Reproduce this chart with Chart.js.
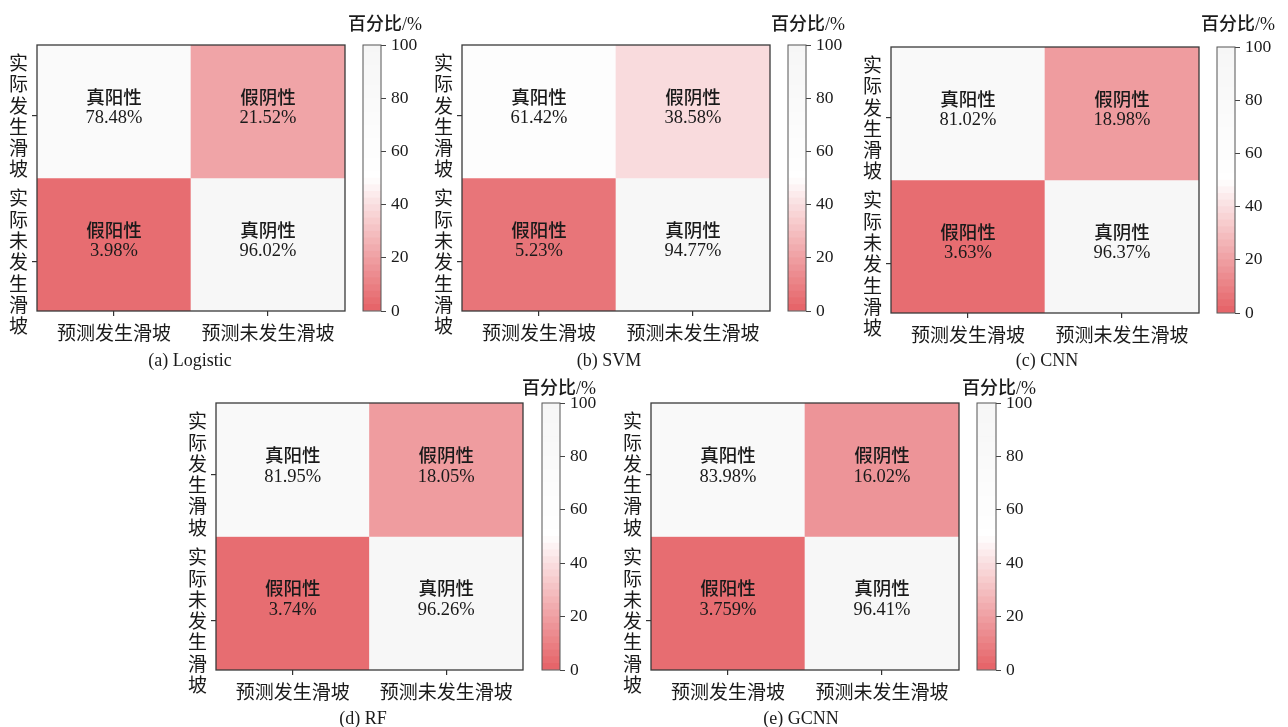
<!DOCTYPE html>
<html>
<head>
<meta charset="utf-8">
<script src="https://cdn.jsdelivr.net/npm/chart.js@4.4.1/dist/chart.umd.min.js"></script>
<style>
  html, body { margin: 0; padding: 0; background: #ffffff; }
  body { width: 1288px; height: 727px; position: relative; overflow: hidden; }
  canvas { position: absolute; }
  .caption {
    position: absolute; white-space: nowrap; color: #1a1a1a;
    font: 18px "Liberation Serif", serif; transform: translate(-50%, -50%);
  }
  .cb-title {
    position: absolute; white-space: nowrap; color: #1a1a1a;
    font: 500 18px "Noto Sans CJK SC", sans-serif; transform: translate(0, -50%);
  }
  .cb-title span { font: 18px "Liberation Serif", serif; }
</style>
</head>
<body>
<script>
// Models and confusion-matrix percentages
const models = ['Logistic', 'SVM', 'CNN', 'RF', 'GCNN'];
const panelTags = ['(a)', '(b)', '(c)', '(d)', '(e)'];
const truePositive  = [78.48, 61.42, 81.02, 81.95, 83.98];
const falseNegative = [21.52, 38.58, 18.98, 18.05, 16.02];
const falsePositive = [3.98, 5.23, 3.63, 3.74, 3.759];
const trueNegative  = [96.02, 94.77, 96.37, 96.26, 96.41];

// Axis categories and cell names
const predicted = ['预测发生滑坡', '预测未发生滑坡'];
const actual = ['实际发生滑坡', '实际未发生滑坡'];
const cellNames = ['真阳性', '假阴性', '假阳性', '真阴性'];
const colorbarTicks = [0, 20, 40, 60, 80, 100];
const colorbarTitle = '百分比';
const colorbarUnit = '/%';

// Page layout of the five panels: heatmap box, colour bar span, title and caption anchors
const layout = [
  { box: [37, 45, 345, 311],  cb: [363, 381],   title: [348, 22],   caption: [190, 360] },
  { box: [462, 45, 770, 311], cb: [788, 806],   title: [771, 22],   caption: [609, 360] },
  { box: [891, 47, 1199, 313], cb: [1217, 1235], title: [1201, 22], caption: [1047, 360] },
  { box: [216, 403, 523, 670], cb: [542, 560],  title: [522, 386],  caption: [363, 718] },
  { box: [651, 403, 959, 670], cb: [977, 996],  title: [962, 386],  caption: [801, 718] }
];

const CJK = '"Noto Sans CJK SC", sans-serif';
const SERIF = '"Liberation Serif", serif';
const INK = '#1a1a1a';

// Red -> white -> light grey colour map, quantised into discrete levels
const cmapStops = [[0, [229, 97, 102]], [50, [255, 255, 255]], [100, [246, 246, 246]]];
const cmapLevels = 40;
function cmap(v) {
  const step = 100 / cmapLevels;
  const q = Math.max(0, Math.min(cmapLevels - 1, Math.floor(v / step)));
  const m = (q + 0.5) * step;
  let a = cmapStops[0], b = cmapStops[1];
  if (m > cmapStops[1][0]) { a = cmapStops[1]; b = cmapStops[2]; }
  const f = (m - a[0]) / (b[0] - a[0]);
  const c = a[1].map((ch, k) => Math.round(ch + (b[1][k] - ch) * f));
  return `rgb(${c[0]},${c[1]},${c[2]})`;
}

// Outline around the plotting area
function framePlugin(color, width) {
  return {
    id: 'frame',
    afterDraw(chart) {
      const { ctx, chartArea: a } = chart;
      ctx.save();
      ctx.strokeStyle = color;
      ctx.lineWidth = width;
      ctx.strokeRect(a.left, a.top, a.right - a.left, a.bottom - a.top);
      ctx.restore();
    }
  };
}

// Name and percentage written in the middle of every cell
const cellLabels = {
  id: 'cellLabels',
  afterDatasetsDraw(chart) {
    const ctx = chart.ctx;
    chart.data.datasets.forEach((ds, di) => {
      chart.getDatasetMeta(di).data.forEach((el, j) => {
        const { x, y, base } = el.getProps(['x', 'y', 'base'], true);
        const cy = (y + base) / 2;
        ctx.save();
        ctx.fillStyle = INK;
        ctx.textAlign = 'center';
        ctx.textBaseline = 'middle';
        ctx.font = '500 18.5px ' + CJK;
        ctx.fillText(ds.cellNames[j], x, cy - 15);
        ctx.font = '18.5px ' + SERIF;
        ctx.fillText(ds.cellValues[j] + '%', x, cy + 7);
        ctx.restore();
      });
    });
  }
};

function makeCanvas(left, top, w, h) {
  const cv = document.createElement('canvas');
  cv.width = w; cv.height = h;
  cv.style.left = left + 'px'; cv.style.top = top + 'px';
  cv.style.width = w + 'px'; cv.style.height = h + 'px';
  document.body.appendChild(cv);
  return cv;
}

function heatmap(i) {
  const [L, T, R, B] = layout[i].box;
  const axisW = 37, axisH = 45, padT = 3, padR = 3;
  const cv = makeCanvas(L - axisW, T - padT, R - L + axisW + padR, B - T + padT + axisH);
  const topVals = [truePositive[i], falseNegative[i]];
  const botVals = [falsePositive[i], trueNegative[i]];
  // row label anchors on the 0..2 row axis (bottom row first)
  const rowLabelAt = [0.368, 1.466];
  new Chart(cv, {
    type: 'bar',
    data: {
      labels: predicted,
      datasets: [
        { label: actual[0], data: [[1, 2], [1, 2]], cellValues: topVals,
          cellNames: [cellNames[0], cellNames[1]], backgroundColor: topVals.map(cmap) },
        { label: actual[1], data: [[0, 1], [0, 1]], cellValues: botVals,
          cellNames: [cellNames[2], cellNames[3]], backgroundColor: botVals.map(cmap) }
      ]
    },
    options: {
      responsive: false, animation: false, devicePixelRatio: 1,
      layout: { padding: { left: 0, top: padT, right: padR, bottom: 0 } },
      plugins: { legend: { display: false }, tooltip: { enabled: false } },
      datasets: { bar: { grouped: false, barPercentage: 1, categoryPercentage: 1, borderWidth: 0 } },
      scales: {
        x: {
          grid: { offset: false, drawOnChartArea: false, tickLength: 5, color: '#333', lineWidth: 1.2 },
          border: { display: false },
          ticks: { font: { family: CJK, size: 19 }, color: INK, padding: 5, maxRotation: 0, autoSkip: false },
          afterFit(s) { s.height = axisH; s.paddingLeft = 0; s.paddingRight = 0; }
        },
        y: {
          min: 0, max: 2,
          grid: { drawOnChartArea: false, tickLength: 5, color: '#333', lineWidth: 1.2 },
          border: { display: false },
          afterBuildTicks(s) { s.ticks = rowLabelAt.map(v => ({ value: v })); },
          ticks: {
            autoSkip: false, color: INK, padding: 4,
            font: { family: CJK, size: 19, lineHeight: 1.12 },
            callback: (v, idx) => Array.from(actual[1 - idx])
          },
          afterFit(s) { s.width = axisW; s.paddingTop = 0; s.paddingBottom = 0; }
        }
      }
    },
    plugins: [cellLabels, framePlugin('#3a3a3a', 1.3)]
  });
}

function colorbar(i) {
  const [, T, , B] = layout[i].box;
  const [x0, x1] = layout[i].cb;
  const axisW = 42, padV = 12;
  const cv = makeCanvas(x0 - 1, T - padV, x1 - x0 + 1 + axisW, B - T + 2 * padV);
  const step = 100 / cmapLevels;
  const bands = [];
  for (let k = 0; k < cmapLevels; k++) bands.push([k * step, (k + 1) * step]);
  new Chart(cv, {
    type: 'bar',
    data: {
      labels: [colorbarTitle],
      datasets: bands.map(b => ({ data: [b], backgroundColor: cmap((b[0] + b[1]) / 2) }))
    },
    options: {
      responsive: false, animation: false, devicePixelRatio: 1,
      layout: { padding: { left: 1, top: padV, right: 0, bottom: padV } },
      plugins: { legend: { display: false }, tooltip: { enabled: false } },
      datasets: { bar: { grouped: false, barPercentage: 1, categoryPercentage: 1, borderWidth: 0 } },
      scales: {
        x: { display: false },
        y: {
          position: 'right', min: 0, max: 100,
          afterBuildTicks(s) { s.ticks = colorbarTicks.map(v => ({ value: v })); },
          grid: { drawOnChartArea: false, tickLength: 5, color: '#444', lineWidth: 1 },
          border: { display: false },
          ticks: { font: { family: SERIF, size: 17.5 }, color: INK, padding: 5 },
          afterFit(s) { s.width = axisW; s.paddingTop = 0; s.paddingBottom = 0; }
        }
      }
    },
    plugins: [framePlugin('#555', 1)]
  });
}

function addText(cls, html, x, y) {
  const d = document.createElement('div');
  d.className = cls;
  d.innerHTML = html;
  d.style.left = x + 'px'; d.style.top = y + 'px';
  document.body.appendChild(d);
}

models.forEach((m, i) => {
  heatmap(i);
  colorbar(i);
  addText('cb-title', colorbarTitle + '<span>' + colorbarUnit + '</span>', layout[i].title[0], layout[i].title[1]);
  addText('caption', panelTags[i] + ' ' + m, layout[i].caption[0], layout[i].caption[1]);
});
</script>
</body>
</html>
